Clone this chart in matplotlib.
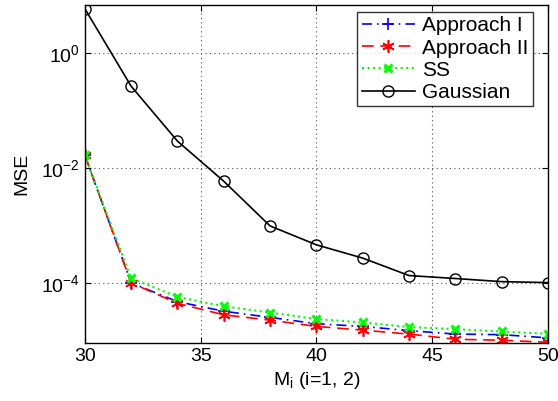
import numpy as np
import matplotlib
matplotlib.use("agg")
import matplotlib.pyplot as plt
from matplotlib.ticker import FixedLocator, NullLocator

plt.rcParams["font.family"] = ["Liberation Sans", "DejaVu Sans"]
plt.rcParams["mathtext.fontset"] = "custom"
plt.rcParams["mathtext.rm"] = "Liberation Sans"
plt.rcParams["mathtext.it"] = "Liberation Sans"

# values
M = [30, 32, 34, 36, 38, 40, 42, 44, 46, 48, 50]
approach1 = [1.68e-2, 1.0e-4, 4.7e-5, 3.2e-5, 2.5e-5, 1.94e-5, 1.74e-5, 1.47e-5, 1.28e-5, 1.25e-5, 1.1e-5]
approach2 = [1.68e-2, 1.0e-4, 4.4e-5, 2.77e-5, 2.24e-5, 1.74e-5, 1.5e-5, 1.28e-5, 1.04e-5, 1.0e-5, 9.2e-6]
ss = [1.68e-2, 1.2e-4, 5.7e-5, 3.9e-5, 3.04e-5, 2.34e-5, 2.04e-5, 1.7e-5, 1.56e-5, 1.42e-5, 1.29e-5]
gaussian = [6.0, 0.267, 0.0295, 0.0059, 9.8e-4, 4.6e-4, 2.7e-4, 1.34e-4, 1.19e-4, 1.05e-4, 1.01e-4]

fig = plt.figure(figsize=(5.58, 4.01), dpi=100)
ax = fig.add_axes([0.152, 0.145, 0.830, 0.843])

ax.semilogy(M, approach1, color="blue", ls=(0, (6, 3, 1, 3)), marker="+", ms=9, mew=1.2, lw=1.2, label="Approach I")
ax.semilogy(M, approach2, color="red", ls=(0, (7, 4)), marker=(6, 2, 0), ms=9, mew=1.2, lw=1.2, label="Approach II")
ax.semilogy(M, ss, ":", color="#00ff00", marker="x", ms=6, mew=2.2, lw=1.5, label="SS")
ax.semilogy(M, gaussian, "-", color="black", marker="o", ms=8, mfc="none", mew=1.0, lw=1.2, label="Gaussian")

ax.set_xlim(30, 50)
ax.set_ylim(9e-6, 7)
ax.set_xticks([30, 35, 40, 45, 50])
ax.yaxis.set_major_locator(FixedLocator([1e-4, 1e-2, 1e0]))
ax.yaxis.set_minor_locator(NullLocator())
ax.tick_params(direction="in", top=True, right=True, labelsize=14, length=4)
ax.grid(True, linestyle=(0, (1, 3)), color="0.3", lw=0.8)
for s in ax.spines.values():
    s.set_linewidth(1.0)

ax.set_xlabel(r"M$_\mathregular{i}$ (i=1, 2)", fontsize=14, labelpad=4)
ax.set_ylabel("MSE", fontsize=14, labelpad=8)

leg = ax.legend(loc="upper right", bbox_to_anchor=(0.968, 0.979), fontsize=15,
                frameon=True, fancybox=False, edgecolor="black",
                borderpad=0.22, labelspacing=0.15, handlelength=2.55,
                handletextpad=0.35, borderaxespad=0.0)
leg.get_frame().set_linewidth(1.0)

fig.savefig("out.png", dpi=100)
